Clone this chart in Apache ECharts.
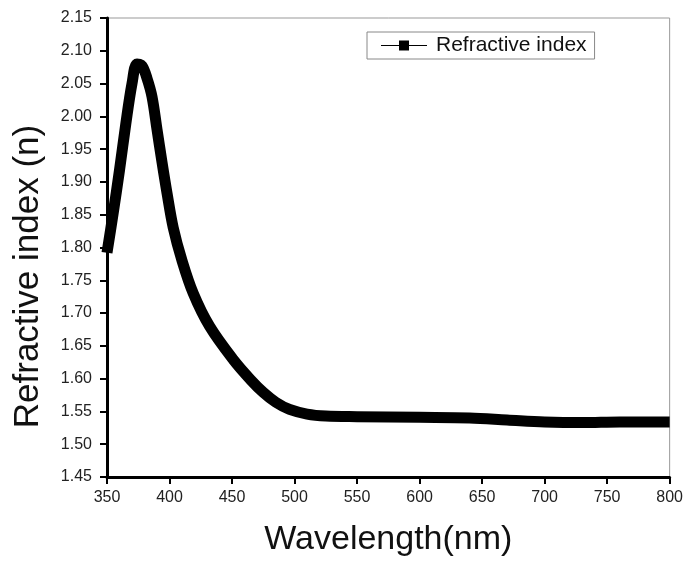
<!DOCTYPE html>
<html>
<head>
<meta charset="utf-8">
<script src="https://cdn.jsdelivr.net/npm/echarts@6/dist/echarts.min.js"></script>
<style>
html,body{margin:0;padding:0;background:#fff;}
#chart{width:686px;height:562px;}
</style>
</head>
<body>
<div id="chart"></div>
<script>
var wavelengths = [350,355,360,365,370,374,378,382,386,390,394,398,403,410,419,432,451,465,475,485,496,510,525,550,600,640,670,700,730,760,800];
var refractiveIndex = [1.792,1.853,1.918,1.988,2.050,2.080,2.077,2.058,2.030,1.980,1.930,1.883,1.830,1.780,1.730,1.680,1.629,1.598,1.579,1.564,1.553,1.546,1.543,1.542,1.541,1.540,1.537,1.534,1.533,1.534,1.534];
var seriesName = 'Refractive index';
var xName = 'Wavelength(nm)';
var yName = 'Refractive index (n)';

var pts = wavelengths.map(function (w, i) { return [w, refractiveIndex[i]]; });
var font = '"Liberation Sans", Arial, sans-serif';
var chart = echarts.init(document.getElementById('chart'), null, {renderer: 'canvas'});
chart.setOption({
  animation: false,
  backgroundColor: '#fff',
  grid: {left: 107, right: 14, top: 18, bottom: 84, show: true, borderColor: '#999', borderWidth: 1},
  legend: {
    left: 367, top: 32,
    padding: [3, 8, 3, 14],
    borderColor: '#888', borderWidth: 1,
    itemWidth: 46, itemHeight: 10, itemGap: 6,
    icon: 'path://M0,4.5h18v1h-18z M18,0h10v10h-10z M28,4.5h18v1h-18z',
    textStyle: {fontFamily: font, fontSize: 21, color: '#111', padding: [0, 0, 0, 4]},
    data: [seriesName]
  },
  xAxis: {
    type: 'value', min: 350, max: 800, interval: 50,
    name: xName, nameLocation: 'middle', nameGap: 46,
    nameTextStyle: {fontFamily: font, fontSize: 34, color: '#111'},
    axisLine: {onZero: false, lineStyle: {color: '#000', width: 3}},
    axisTick: {inside: false, length: 7, lineStyle: {color: '#000', width: 2}},
    axisLabel: {margin: 13, fontFamily: font, fontSize: 16, color: '#222'},
    splitLine: {show: false}
  },
  yAxis: {
    type: 'value', min: 1.45, max: 2.15, interval: 0.05,
    name: yName, nameLocation: 'middle', nameGap: 61,
    nameTextStyle: {fontFamily: font, fontSize: 35, color: '#111', padding: [0, 58, 0, 0]},
    axisLine: {onZero: false, lineStyle: {color: '#000', width: 3}},
    axisTick: {inside: false, length: 7, lineStyle: {color: '#000', width: 2}},
    axisLabel: {margin: 15, fontFamily: font, fontSize: 16, color: '#222',
      formatter: function (v) { return v.toFixed(2); }},
    splitLine: {show: false}
  },
  series: [{
    name: seriesName, type: 'line', data: pts,
    smooth: 0.35, showSymbol: false, symbol: 'rect',
    itemStyle: {color: '#000'},
    lineStyle: {color: '#000', width: 11, cap: 'butt', join: 'round'},
    clip: false
  }]
});
</script>
</body>
</html>
